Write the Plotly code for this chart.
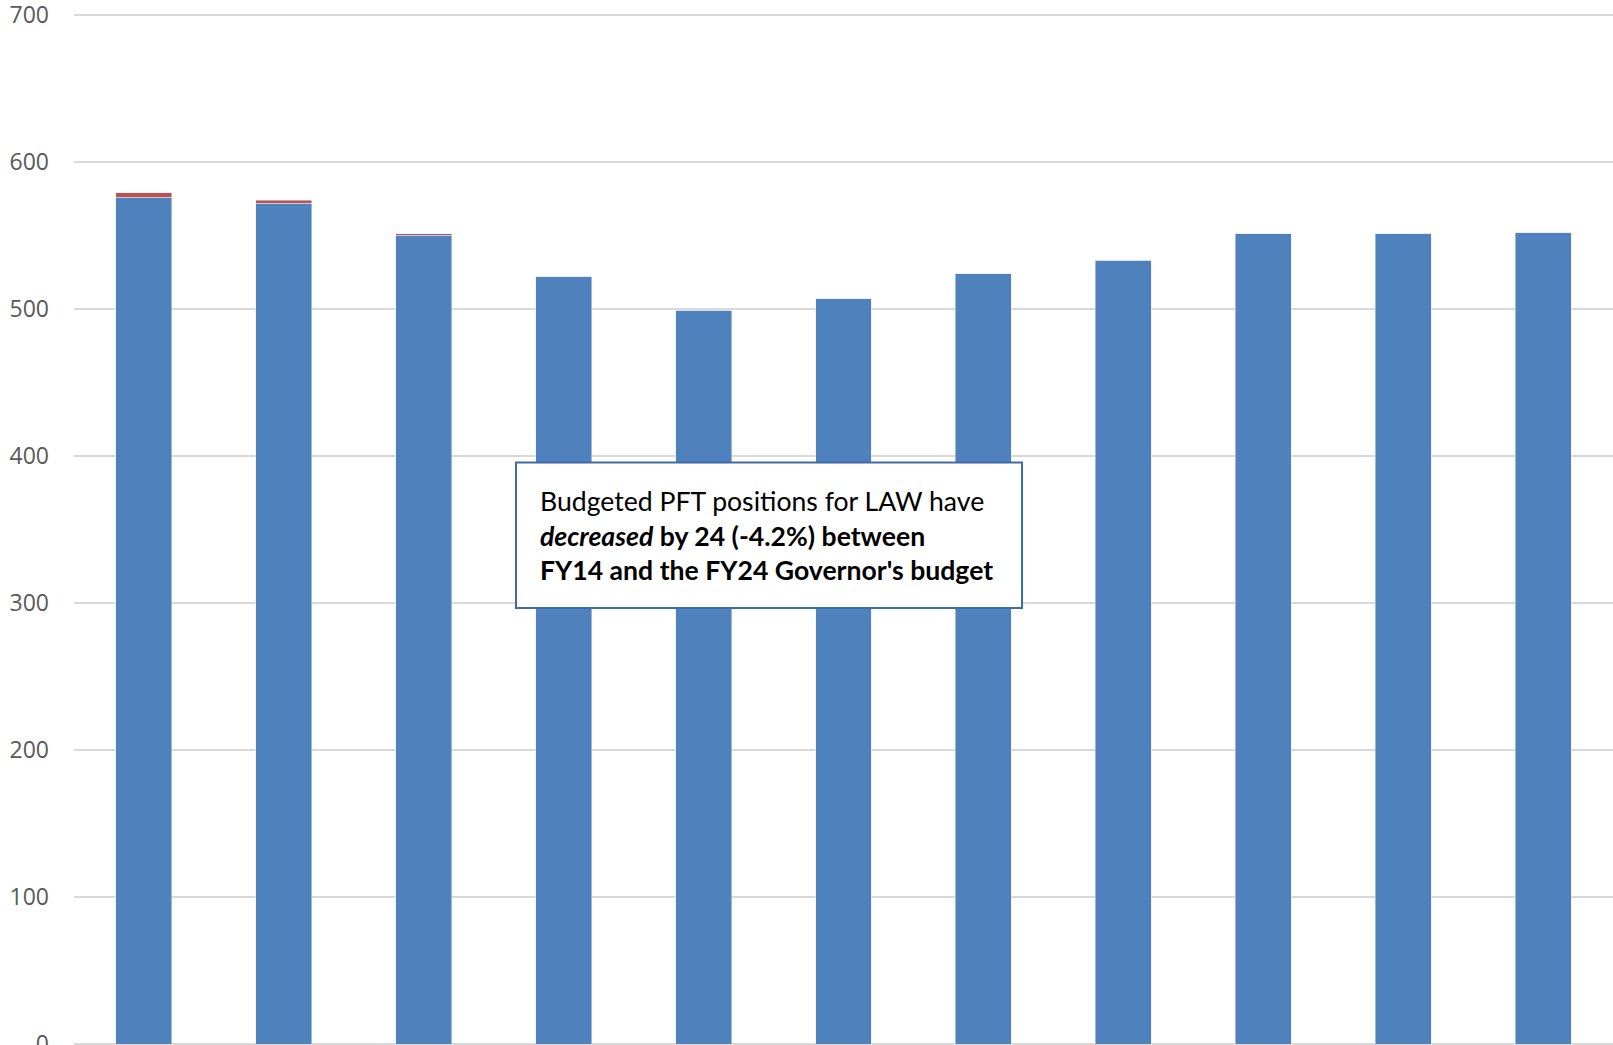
import plotly.graph_objects as go

categories = ["FY14", "FY15", "FY16", "FY17", "FY18", "FY19", "FY20", "FY21", "FY22", "FY23", "FY24"]
filled_positions = [576, 572, 550, 522, 499, 507, 524, 533, 551, 551, 552]
other_positions = [3, 2, 1, 0, 0, 0, 0, 0, 0, 0, 0]
y_ticks = [0, 100, 200, 300, 400, 500, 600, 700]

fig = go.Figure()
fig.add_trace(go.Bar(x=categories, y=filled_positions, marker=dict(color="#4f81bd"),
                     width=0.4, name="Positions"))
fig.add_trace(go.Bar(x=categories, y=other_positions, marker=dict(color="#c0504d"),
                     width=0.4, name="Other"))

fig.update_layout(
    barmode="stack",
    width=1613, height=1045,
    margin=dict(l=74, r=0, t=12, b=1),
    paper_bgcolor="white", plot_bgcolor="white",
    showlegend=False,
    font=dict(family="Open Sans", color="#595959"),
    xaxis=dict(showticklabels=False, showgrid=False, zeroline=False, showline=False, ticks="",
               automargin=False),
    yaxis=dict(range=[0, 702], tickvals=y_ticks, showgrid=True, gridcolor="#d9d9d9", gridwidth=1.5,
               zeroline=True, zerolinecolor="#d9d9d9", zerolinewidth=1.5,
               tickfont=dict(family="Open Sans", size=23, color="#595959"),
               ticklabelstandoff=24, ticklabeloverflow="allow", showline=False,
               automargin=False),
)

fig.add_shape(type="rect", xref="paper", yref="paper",
              x0=0.2872, x1=0.616, y0=0.4226, y1=0.5635,
              line=dict(color="#3f6ca6", width=2), fillcolor="white", layer="above")

fig.add_annotation(
    xref="paper", yref="paper", x=0.3015, y=0.493, xanchor="left", yanchor="middle",
    align="left", showarrow=False,
    text="Budgeted PFT positions for LAW have<br><b><i>decreased</i> by 24 (-4.2%) between</b><br><b>FY14 and the FY24 Governor's budget</b>",
    font=dict(family="Lato", size=26.6, color="black"),
)

fig.write_html("out.html", config={"displayModeBar": False},
               post_script="document.body.style.margin='0';document.body.style.overflow='hidden';")
